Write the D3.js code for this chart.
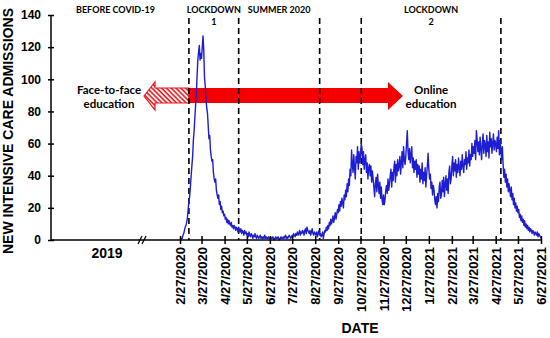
<!DOCTYPE html>
<html>
<head>
<meta charset="utf-8">
<script src="https://cdn.jsdelivr.net/npm/d3@7"></script>
<style>
body { margin: 0; background: #fff; }
svg { display: block; }
.axis text { font-family: "Liberation Sans", Arial, sans-serif; font-weight: bold; fill: #000; }
.axis line, .axis path { stroke: #000; stroke-width: 1.5; }
.phase { font-family: Lato, "Open Sans", sans-serif; font-weight: bold; font-size: 9px; fill: #000; }
.note { font-family: Lato, "Open Sans", sans-serif; font-weight: bold; font-size: 11.5px; fill: #000; }
.title { font-family: "Liberation Sans", Arial, sans-serif; font-weight: bold; font-size: 14px; fill: #000; }
</style>
</head>
<body>
<svg id="chart" width="550" height="338"></svg>
<script>
// daily new ICU admissions, first value = startDate
var startDate = "2020-02-27";
var admissions = [
  // 27 Feb - 26 Mar 2020
  0, 0, 1, 1, 3, 4, 6, 8, 9, 11, 14, 19, 24, 27, 33, 40, 46, 52, 62, 68, 76, 84, 91, 102, 112, 117, 121, 112, 116,
  // 27 Mar - 26 Apr
  113, 120, 127, 118, 101, 96, 88, 82, 79, 71, 63, 65, 56, 52, 49, 50, 42, 38, 36, 38, 31, 28, 26, 28, 22, 24, 19, 21, 17, 18, 15,
  // 27 Apr - 26 May
  16, 13, 14, 11, 13, 10, 12, 10, 9, 11, 8, 9, 7, 9, 8, 6, 8, 7, 5, 8, 6, 5, 7, 4, 6, 5, 3, 6, 4, 5,
  // 27 May - 26 Jun
  3, 4, 2, 5, 3, 2, 4, 3, 1, 3, 2, 4, 2, 1, 3, 2, 1, 2, 3, 1, 2, 1, 2, 1, 3, 1, 2, 1, 1, 2, 1,
  // 27 Jun - 26 Jul
  1, 2, 1, 1, 2, 1, 0, 1, 2, 1, 1, 2, 1, 0, 1, 2, 1, 1, 2, 1, 2, 3, 1, 2, 1, 2, 3, 2, 1, 2,
  // 27 Jul - 26 Aug
  3, 2, 4, 3, 2, 4, 3, 5, 3, 4, 6, 3, 5, 4, 6, 5, 3, 6, 7, 4, 8, 6, 5, 4, 6, 3, 5, 7, 4, 3, 5,
  // 27 Aug - 26 Sep
  4, 3, 5, 2, 4, 6, 3, 4, 2, 3, 5, 1, 4, 6, 5, 8, 6, 9, 7, 11, 9, 13, 10, 12, 15, 11, 14, 17, 13, 16, 19,
  // 27 Sep - 26 Oct
  17, 22, 18, 24, 21, 26, 23, 20, 28, 25, 31, 27, 35, 30, 38, 34, 44, 40, 56, 47, 42, 53, 45, 38, 52, 48, 58, 44, 55, 48,
  // 27 Oct - 26 Nov
  52, 60, 57, 47, 55, 44, 50, 53, 42, 48, 38, 45, 47, 40, 46, 36, 43, 38, 33, 27, 35, 39, 30, 41, 34, 29, 36, 26, 33, 25, 22,
  // 27 Nov - 26 Dec
  28, 22, 25, 31, 34, 29, 38, 31, 35, 40, 44, 33, 42, 37, 45, 49, 36, 47, 40, 50, 43, 46, 52, 41, 48, 55, 45, 58, 50, 47,
  // 27 Dec - 26 Jan 2021
  52, 60, 68, 55, 50, 57, 48, 53, 58, 45, 51, 42, 49, 44, 50, 39, 47, 41, 46, 36, 44, 38, 48, 35, 42, 37, 45, 33, 40, 46, 54,
  // 27 Jan - 26 Feb
  44, 38, 41, 32, 36, 28, 34, 31, 25, 22, 27, 20, 29, 24, 33, 36, 26, 28, 37, 30, 39, 27, 34, 40, 31, 38, 29, 42, 46, 35, 38,
  // 27 Feb - 26 Mar
  46, 52, 40, 48, 43, 50, 39, 47, 42, 51, 45, 40, 49, 44, 53, 46, 42, 50, 47, 55, 44, 51, 48, 56, 46, 53, 50, 60,
  // 27 Mar - 26 Apr
  52, 58, 54, 62, 50, 68, 63, 55, 61, 53, 64, 57, 50, 60, 66, 54, 62, 59, 52, 65, 55, 61, 51, 67, 58, 63, 54, 60, 66, 56, 62,
  // 27 Apr - 26 May
  60, 55, 64, 57, 68, 53, 62, 56, 50, 58, 47, 39, 44, 36, 41, 33, 38, 30, 35, 31, 27, 33, 25, 29, 22, 26, 20, 23, 18, 21,
  // 27 May - 27 Jun
  17, 19, 14, 16, 12, 15, 11, 13, 9, 12, 8, 10, 7, 9, 6, 8, 5, 7, 6, 4, 6, 5, 3, 5, 4, 3, 5, 2, 4, 3, 2, 1
];

var dateTicks = ["2020-02-27", "2020-03-27", "2020-04-27", "2020-05-27", "2020-06-27", "2020-07-27",
  "2020-08-27", "2020-09-27", "2020-10-27", "2020-11-27", "2020-12-27", "2021-01-27", "2021-02-27",
  "2021-03-27", "2021-04-27", "2021-05-27", "2021-06-27"];
var yTicks = [0, 20, 40, 60, 80, 100, 120, 140];
var phaseLines = ["2020-03-10", "2020-05-16", "2020-09-02", "2020-10-28", "2021-05-04"];

var svg = d3.select("#chart");
var width = 550, height = 338;
var margin = {top: 15, right: 9, bottom: 98, left: 51};
var axisStart = 180; // where the dated part of the x axis begins (after the break)

var parseTime = d3.timeParse("%Y-%m-%d");
var fmt = d3.timeFormat("%-m/%-d/%Y");
var t0 = parseTime(startDate);

var data = admissions.map(function(v, i) {
  return {date: d3.timeDay.offset(t0, i), value: v};
});

var x = d3.scaleTime()
    .domain([parseTime(dateTicks[0]), parseTime(dateTicks[dateTicks.length - 1])])
    .range([axisStart, width - margin.right]);

var y = d3.scaleLinear()
    .domain([0, 140])
    .range([height - margin.bottom, margin.top]);

var y0 = y(0);

// hatch pattern for the face-to-face arrow
var defs = svg.append("defs");
defs.append("pattern")
    .attr("id", "hatch")
    .attr("patternUnits", "userSpaceOnUse")
    .attr("width", 3.4).attr("height", 3.4)
    .attr("patternTransform", "rotate(-45)")
  .append("line")
    .attr("x1", 1).attr("x2", 1).attr("y1", 0).attr("y2", 3.4)
    .attr("stroke", "#e8141b").attr("stroke-width", 1.6);

// arrows
var bodyTop = 88, bodyBot = 103, headTop = 82, headBot = 110, midY = 96;
var splitX = x(parseTime(phaseLines[0]));
var leftTip = 144, leftBase = 155, rightBase = 388, rightTip = 403;

svg.append("path")
    .attr("d", "M" + leftTip + "," + midY + "L" + leftBase + "," + headTop + "L" + leftBase + "," + bodyTop +
      "L" + splitX + "," + bodyTop + "L" + splitX + "," + bodyBot + "L" + leftBase + "," + bodyBot +
      "L" + leftBase + "," + headBot + "Z")
    .attr("fill", "url(#hatch)")
    .attr("stroke", "#e8141b").attr("stroke-width", 1.2);

svg.append("path")
    .attr("d", "M" + splitX + "," + bodyTop + "L" + rightBase + "," + bodyTop + "L" + rightBase + "," + headTop +
      "L" + rightTip + "," + midY + "L" + rightBase + "," + headBot + "L" + rightBase + "," + bodyBot +
      "L" + splitX + "," + bodyBot + "Z")
    .attr("fill", "#f50000");

// dashed phase boundaries
svg.append("g").selectAll("line").data(phaseLines).enter().append("line")
    .attr("x1", d => x(parseTime(d))).attr("x2", d => x(parseTime(d)))
    .attr("y1", 18).attr("y2", y0)
    .attr("stroke", "#000").attr("stroke-width", 1.6)
    .attr("stroke-dasharray", "6,4");

// phase labels
var px = phaseLines.map(d => x(parseTime(d)));
var phaseLabels = [
  {lines: ["BEFORE COVID-19"], cx: (margin.left + axisStart) / 2},
  {lines: ["LOCKDOWN", "1"], cx: (px[0] + px[1]) / 2},
  {lines: ["SUMMER 2020"], cx: (px[1] + px[2]) / 2},
  {lines: ["LOCKDOWN", "2"], cx: (px[3] + px[4]) / 2}
];
phaseLabels.forEach(function(p) {
  p.lines.forEach(function(s, i) {
    svg.append("text").attr("class", "phase")
      .attr("x", p.cx).attr("y", 13 + i * 12)
      .attr("text-anchor", "middle")
      .text(s);
  });
});

// education notes
[["Face-to-face", "education", 109], ["Online", "education", 431]].forEach(function(n) {
  svg.append("text").attr("class", "note").attr("x", n[2]).attr("y", 94).attr("text-anchor", "middle").text(n[0]);
  svg.append("text").attr("class", "note").attr("x", n[2]).attr("y", 108).attr("text-anchor", "middle").text(n[1]);
});

// the data line
svg.append("path")
    .datum(data)
    .attr("fill", "none")
    .attr("stroke", "#1d1dd2")
    .attr("stroke-width", 1.4)
    .attr("stroke-linejoin", "round")
    .attr("d", d3.line().x(d => x(d.date)).y(d => y(d.value)));

// y axis
var yAxis = svg.append("g").attr("class", "axis")
    .attr("transform", "translate(" + margin.left + ",0)")
    .call(d3.axisLeft(y).tickValues(yTicks).tickSize(3).tickSizeOuter(0).tickPadding(7));
yAxis.selectAll(".tick line").attr("x2", 3).attr("x1", -3);
yAxis.selectAll(".tick text").attr("font-size", 12);
yAxis.select(".domain").attr("d", "M0," + y(140) + "V" + y0);

// x axis
var xAxis = svg.append("g").attr("class", "axis")
    .attr("transform", "translate(0," + y0 + ")")
    .call(d3.axisBottom(x).tickValues(dateTicks.map(parseTime)).tickFormat(fmt).tickSize(4).tickSizeOuter(0));
xAxis.select(".domain").attr("d", "M" + margin.left + ",0H" + x.range()[1]);
xAxis.selectAll(".tick line").attr("y1", -4).attr("y2", 4);
xAxis.selectAll(".tick text")
    .attr("font-size", 13)
    .attr("transform", "rotate(-90)")
    .attr("text-anchor", "end")
    .attr("x", -7).attr("y", 0).attr("dy", "0.35em");

// axis break marks
[138, 142].forEach(function(bx) {
  svg.append("line")
    .attr("x1", bx).attr("y1", y0 + 4).attr("x2", bx + 4).attr("y2", y0 - 4)
    .attr("stroke", "#000").attr("stroke-width", 1.3);
});

svg.append("text").attr("class", "title").attr("font-size", 12)
    .attr("x", 107).attr("y", 258).attr("text-anchor", "middle").text("2019");

svg.append("text").attr("class", "title")
    .attr("x", 360).attr("y", 333).attr("text-anchor", "middle").text("DATE");

svg.append("text").attr("class", "title")
    .attr("transform", "translate(13," + 131 + ") rotate(-90)")
    .attr("text-anchor", "middle").text("NEW INTENSIVE CARE ADMISSIONS");
</script>
</body>
</html>
